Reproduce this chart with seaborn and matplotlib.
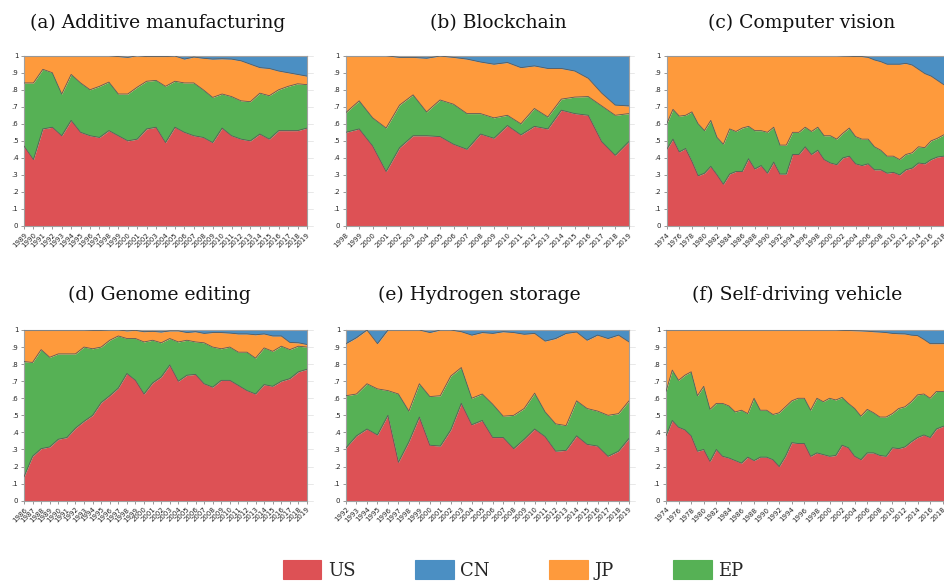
import numpy as np
import matplotlib
matplotlib.use("Agg")
import matplotlib.pyplot as plt
import seaborn as sns
from matplotlib.patches import Patch

sns.set_style("white")
plt.rcParams["font.family"] = ["DejaVu Sans"]

# colours per office
US_C, CN_C, JP_C, EP_C = "#dd5155", "#4b8fc3", "#fe9a3c", "#56b155"

# Values are the stacked upper edges:
# *_us = US share, *_ep = US+EP, *_jp = US+EP+JP (rest up to 1 is CN)

# (a) Additive manufacturing, 1989-2019
a_years = list(range(1989, 2020))
a_us = [0.47, 0.39, 0.57, 0.58, 0.53, 0.62, 0.55, 0.53, 0.52, 0.56, 0.53, 0.50, 0.51, 0.57, 0.58, 0.49,
        0.58, 0.55, 0.53, 0.52, 0.49, 0.575, 0.53, 0.51, 0.50, 0.54, 0.51, 0.56, 0.56, 0.56, 0.575]
a_ep = [0.84, 0.84, 0.92, 0.90, 0.775, 0.89, 0.84, 0.80, 0.82, 0.845, 0.775, 0.775, 0.815, 0.85, 0.855, 0.82,
        0.85, 0.84, 0.84, 0.80, 0.755, 0.775, 0.76, 0.735, 0.73, 0.78, 0.765, 0.80, 0.82, 0.835, 0.83]
a_jp = [1, 1, 1, 1, 1, 1, 1, 1, 1, 1, 0.995, 0.99, 1.0, 0.995, 0.995, 0.995,
        0.998, 0.98, 0.992, 0.985, 0.98, 0.982, 0.98, 0.97, 0.95, 0.93, 0.925, 0.91, 0.90, 0.89, 0.88]

# (b) Blockchain, 1998-2019
b_years = list(range(1998, 2020))
b_us = [0.55, 0.57, 0.47, 0.32, 0.46, 0.53, 0.53, 0.525, 0.48, 0.45, 0.54,
        0.515, 0.59, 0.535, 0.585, 0.57, 0.68, 0.66, 0.65, 0.495, 0.415, 0.495]
b_ep = [0.665, 0.735, 0.635, 0.575, 0.71, 0.77, 0.67, 0.74, 0.715, 0.66, 0.66,
        0.635, 0.65, 0.60, 0.69, 0.64, 0.745, 0.757, 0.76, 0.705, 0.65, 0.66]
b_jp = [1, 1, 1, 1, 0.99, 0.99, 0.985, 0.998, 0.99, 0.98, 0.963,
        0.95, 0.96, 0.93, 0.94, 0.925, 0.925, 0.91, 0.867, 0.78, 0.71, 0.705]

# (c) Computer vision, 1974-2019
c_years = list(range(1974, 2020))
c_us = [0.45, 0.51, 0.435, 0.455, 0.38, 0.295, 0.31, 0.35, 0.30, 0.245,
        0.305, 0.32, 0.32, 0.395, 0.335, 0.355, 0.31, 0.375, 0.305, 0.305,
        0.42, 0.42, 0.465, 0.42, 0.445, 0.39, 0.37, 0.36, 0.40, 0.41,
        0.365, 0.355, 0.365, 0.33, 0.33, 0.31, 0.315, 0.30, 0.33, 0.34,
        0.37, 0.365, 0.39, 0.405, 0.41, 0.415]
c_ep = [0.60, 0.685, 0.645, 0.65, 0.67, 0.60, 0.56, 0.62, 0.52, 0.48,
        0.57, 0.555, 0.575, 0.585, 0.56, 0.56, 0.55, 0.58, 0.475, 0.475,
        0.55, 0.55, 0.58, 0.555, 0.58, 0.53, 0.53, 0.51, 0.545, 0.575,
        0.525, 0.51, 0.51, 0.465, 0.445, 0.41, 0.41, 0.39, 0.42, 0.43,
        0.465, 0.46, 0.50, 0.515, 0.535, 0.545]
c_jp = [1, 1, 1, 1, 1, 1, 1, 1, 1, 1,
        1, 1, 1, 1, 1, 1, 1, 1, 1, 1,
        1, 1, 1, 1, 1, 1, 1, 1, 0.998, 0.997,
        0.995, 0.995, 0.99, 0.975, 0.965, 0.95, 0.95, 0.95, 0.955, 0.945,
        0.92, 0.895, 0.88, 0.855, 0.83, 0.82]

# (d) Genome editing, 1986-2019
d_years = list(range(1986, 2020))
d_us = [0.14, 0.26, 0.305, 0.315, 0.36, 0.37, 0.425, 0.465, 0.50, 0.575,
        0.615, 0.66, 0.745, 0.705, 0.625, 0.69, 0.725, 0.795, 0.70, 0.735,
        0.74, 0.685, 0.665, 0.705, 0.705, 0.675, 0.645, 0.625, 0.68, 0.67,
        0.70, 0.715, 0.755, 0.77]
d_ep = [0.815, 0.81, 0.885, 0.84, 0.86, 0.86, 0.86, 0.90, 0.89, 0.90,
        0.94, 0.965, 0.95, 0.95, 0.93, 0.94, 0.925, 0.95, 0.93, 0.94,
        0.93, 0.925, 0.90, 0.89, 0.90, 0.87, 0.87, 0.835, 0.895, 0.875,
        0.905, 0.885, 0.905, 0.90]
d_jp = [1, 1, 1, 1, 1, 1, 1, 1, 0.998, 0.998,
        1, 1, 0.995, 0.998, 0.99, 0.992, 0.988, 0.995, 0.995, 0.985,
        0.99, 0.98, 0.985, 0.985, 0.982, 0.977, 0.977, 0.972, 0.977, 0.965,
        0.965, 0.927, 0.925, 0.915]

# (e) Hydrogen storage, 1992-2019
e_years = list(range(1992, 2020))
e_us = [0.31, 0.38, 0.42, 0.385, 0.50, 0.225, 0.345, 0.49, 0.325, 0.32,
        0.415, 0.57, 0.445, 0.47, 0.37, 0.37, 0.305, 0.36, 0.42, 0.375,
        0.29, 0.295, 0.38, 0.33, 0.32, 0.26, 0.29, 0.365]
e_ep = [0.615, 0.625, 0.685, 0.655, 0.645, 0.625, 0.525, 0.685, 0.61, 0.615,
        0.73, 0.78, 0.60, 0.625, 0.565, 0.495, 0.50, 0.54, 0.63, 0.52,
        0.45, 0.44, 0.585, 0.54, 0.525, 0.50, 0.51, 0.585]
e_jp = [0.92, 0.955, 1.0, 0.92, 1.0, 1.0, 1.0, 1.0, 0.985, 1.0,
        1.0, 0.99, 0.97, 0.985, 0.98, 0.99, 0.985, 0.975, 0.98, 0.935,
        0.95, 0.98, 0.988, 0.94, 0.97, 0.95, 0.97, 0.93]

# (f) Self-driving vehicle, 1974-2019
f_years = list(range(1974, 2020))
f_us = [0.38, 0.47, 0.43, 0.415, 0.38, 0.29, 0.30, 0.23, 0.30, 0.26,
        0.25, 0.235, 0.22, 0.255, 0.235, 0.255, 0.255, 0.24, 0.20, 0.26,
        0.34, 0.335, 0.335, 0.26, 0.28, 0.27, 0.26, 0.265, 0.325, 0.31,
        0.26, 0.24, 0.28, 0.28, 0.265, 0.26, 0.31, 0.305, 0.315, 0.345,
        0.37, 0.385, 0.37, 0.42, 0.435, 0.445]
f_ep = [0.64, 0.765, 0.705, 0.735, 0.755, 0.615, 0.67, 0.535, 0.57, 0.57,
        0.555, 0.52, 0.53, 0.51, 0.60, 0.53, 0.53, 0.505, 0.515, 0.55,
        0.585, 0.60, 0.60, 0.53, 0.60, 0.58, 0.60, 0.59, 0.605, 0.57,
        0.54, 0.495, 0.535, 0.515, 0.49, 0.49, 0.51, 0.54, 0.55, 0.58,
        0.62, 0.625, 0.60, 0.64, 0.64, 0.645]
f_jp = [1, 1, 1, 1, 1, 1, 1, 1, 1, 1,
        1, 1, 1, 1, 1, 1, 1, 1, 1, 1,
        1, 1, 1, 1, 1, 1, 1, 1, 0.998, 0.997,
        0.996, 0.995, 0.993, 0.99, 0.988, 0.985, 0.98, 0.978, 0.977, 0.97,
        0.967, 0.945, 0.92, 0.92, 0.92, 0.92]

titles = ["(a) Additive manufacturing", "(b) Blockchain", "(c) Computer vision",
          "(d) Genome editing", "(e) Hydrogen storage", "(f) Self-driving vehicle"]

W, H = 944, 583
fig = plt.figure(figsize=(W / 100, H / 100), dpi=100)


def px_axes(left, top, right, bottom):
    return fig.add_axes([left / W, 1 - bottom / H, (right - left) / W, (bottom - top) / H])


def draw_panel(ax, years, us, ep, jp, step):
    x = np.array(years)
    us, ep, jp = np.array(us), np.array(ep), np.array(jp)
    zero, one = np.zeros(len(x)), np.ones(len(x))
    for lo, hi, col in [(zero, us, US_C), (us, ep, EP_C), (ep, jp, JP_C), (jp, one, CN_C)]:
        ax.fill_between(x, lo, hi, color=col, linewidth=0, zorder=2)
    for edge in (us, ep, jp):
        sns.lineplot(x=x, y=edge, ax=ax, color="#5a5a5a", linewidth=0.6, zorder=3)

    ax.set_xlim(x[0], x[-1])
    ax.set_ylim(0, 1)
    yt = np.round(np.arange(0, 1.01, 0.1), 1)
    ax.set_yticks(yt)
    ax.set_yticklabels(["0"] + [f".{i}" for i in range(1, 10)] + ["1"])
    ax.set_xticks(x[::step])
    ax.set_xticklabels([str(v) for v in x[::step]], rotation=45, ha="right",
                       rotation_mode="anchor")
    ax.set_xlabel("")
    ax.set_ylabel("")
    ax.tick_params(axis="both", direction="out", length=2.5, width=0.6, color="#888888",
                   labelsize=5, pad=1.5, left=True, bottom=True)
    for s in ax.spines.values():
        s.set_color("#a0a0a0")
        s.set_linewidth(0.8)
    # faint grid stubs to the right of the plot region
    for y in yt:
        ax.plot([1.0, 1.02], [y, y], transform=ax.get_yaxis_transform(),
                color="#e4e4e4", lw=0.6, clip_on=False)


panels = [
    ((24, 55.7, 307, 226), a_years, a_us, a_ep, a_jp, 1),
    ((345.7, 55.7, 628.7, 226), b_years, b_us, b_ep, b_jp, 1),
    ((666.7, 55.7, 950, 226), c_years, c_us, c_ep, c_jp, 2),
    ((24, 330, 307, 500.7), d_years, d_us, d_ep, d_jp, 1),
    ((346, 330, 629, 500.7), e_years, e_us, e_ep, e_jp, 1),
    ((666, 330, 949, 500.7), f_years, f_us, f_ep, f_jp, 2),
]
for box, yrs, us, ep, jp, step in panels:
    ax = px_axes(*box)
    draw_panel(ax, yrs, us, ep, jp, step)

# titles, centred where they sit in the reference
title_pos = [(158, 28.3), (498, 28.3), (802, 28.3), (159, 300), (479.5, 300), (797, 300)]
for t, (cx, by) in zip(titles, title_pos):
    fig.text(cx / W, 1 - by / H, t, ha="center", va="baseline",
             family="DejaVu Serif", fontsize=13.5, color="#111111")

handles = [Patch(facecolor=c, edgecolor=c, alpha=1, label=k, linewidth=0.8)
           for k, c in [("US", US_C), ("CN", CN_C), ("JP", JP_C), ("EP", EP_C)]]
fig.legend(handles=handles, loc="center", bbox_to_anchor=(513 / W, 1 - 570 / H), ncol=4,
           frameon=False, prop={"family": "DejaVu Serif", "size": 13},
           handlelength=2.15, handleheight=1.2, handletextpad=0.35, columnspacing=3.3,
           borderpad=0, borderaxespad=0)

fig.savefig("out.png", dpi=100)
